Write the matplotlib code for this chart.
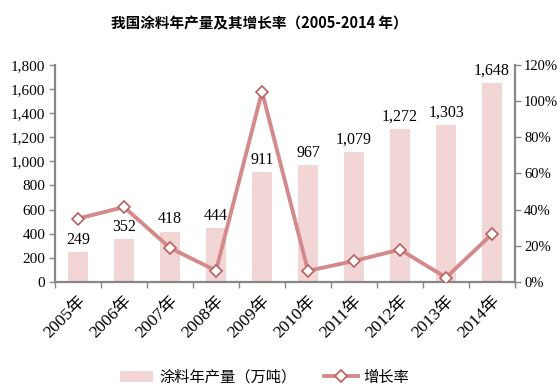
import numpy as np
import matplotlib
matplotlib.use('Agg')
import matplotlib.pyplot as plt
from matplotlib.ticker import FuncFormatter

plt.rcParams['font.family'] = ['Liberation Serif', 'Noto Sans CJK SC']

years = ['2005年', '2006年', '2007年', '2008年', '2009年',
         '2010年', '2011年', '2012年', '2013年', '2014年']
output = [249, 352, 418, 444, 911, 967, 1079, 1272, 1303, 1648]
growth = [35.0, 41.4, 18.8, 6.2, 105.2, 6.1, 11.6, 17.9, 2.4, 26.5]

bar_color = '#f2d5d5'
line_color = '#d48a8a'
axis_color = '#878787'

fig = plt.figure(figsize=(5.57, 3.91), dpi=100)
ax = fig.add_axes([0.0987, 0.279, 0.826, 0.555])
ax2 = ax.twinx()

x = np.arange(len(years))
ax.bar(x, output, width=0.42, color=bar_color, label='涂料年产量（万吨）', zorder=1)
for xi, v in zip(x, output):
    ax.text(xi, v + 35, f'{v:,}', ha='center', va='bottom', fontsize=11.5,
            family=['Liberation Serif'])

ax2.plot(x, growth, color=line_color, lw=2.8, marker='D', markersize=6,
         markerfacecolor='white', markeredgecolor='#b86060', markeredgewidth=1.2,
         label='增长率', zorder=3)

ax.set_xlim(-0.5, len(years) - 0.5)
ax.set_ylim(0, 1800)
ax.set_yticks(range(0, 1801, 200))
ax.yaxis.set_major_formatter(FuncFormatter(lambda v, p: f'{int(v):,}'))
ax2.set_ylim(0, 120)
ax2.set_yticks(range(0, 121, 20))
ax2.yaxis.set_major_formatter(FuncFormatter(lambda v, p: f'{int(v)}%'))

ax.set_xticks(x)
ax.set_xticklabels(years, rotation=45, ha='right', rotation_mode='anchor',
                   family=['Liberation Serif', 'Noto Sans CJK SC'], fontsize=12.5)
ax.set_xticks(np.arange(-0.5, len(years), 1), minor=True)
ax.tick_params(axis='x', which='major', length=0, pad=8)
ax.tick_params(axis='x', which='minor', length=4, color=axis_color, width=1)
ax.tick_params(axis='y', length=4, color=axis_color, width=1, labelsize=11, pad=3)
ax2.tick_params(axis='y', length=4, color=axis_color, width=1, labelsize=10.5, pad=2.5)

for a in (ax, ax2):
    a.spines['top'].set_visible(False)
    for s in ('left', 'right', 'bottom'):
        a.spines[s].set_color(axis_color)
        a.spines[s].set_linewidth(1.6)
ax.spines['right'].set_visible(False)
ax2.spines['left'].set_visible(False)
ax2.spines['bottom'].set_visible(False)

fig.text(0.465, 0.94, '我国涂料年产量及其增长率（2005-2014 年）', ha='center', va='center',
         fontsize=10.5, fontweight='bold', family=['Noto Sans CJK SC'])

h1, l1 = ax.get_legend_handles_labels()
h2, l2 = ax2.get_legend_handles_labels()
fig.legend(h1 + h2, l1 + l2, loc='center', bbox_to_anchor=(0.475, 0.035), ncol=2,
           frameon=False, prop={'family': 'Noto Sans CJK SC', 'size': 11},
           handlelength=2.2, handleheight=0.7, handletextpad=0.4, columnspacing=1.8)

fig.savefig('out.png', dpi=100)
